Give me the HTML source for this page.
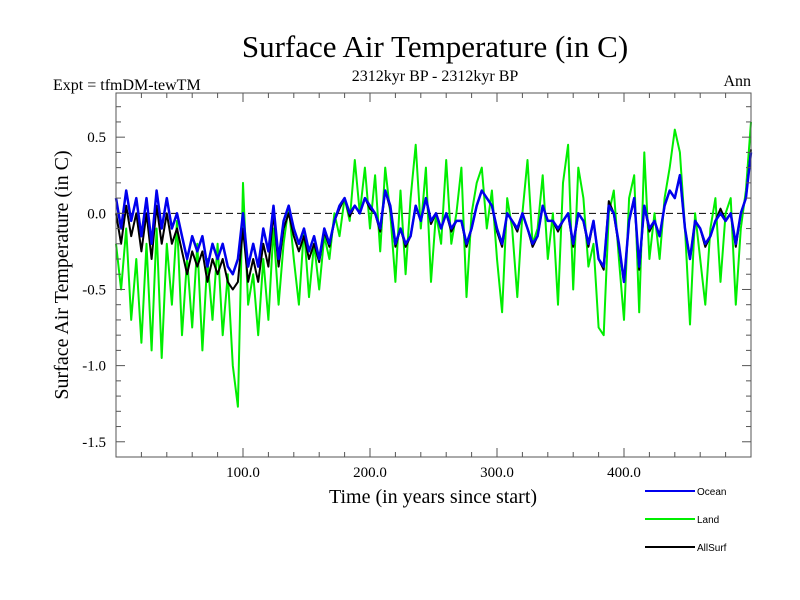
<!DOCTYPE html>
<html><head><meta charset="utf-8"><style>
html,body{margin:0;padding:0;background:#fff;}
svg{display:block;font-family:"Liberation Serif",serif;}
</style></head><body>
<svg id="chart" width="800" height="600" viewBox="0 0 800 600" xmlns="http://www.w3.org/2000/svg">
<text x="435" y="57" font-size="31" text-anchor="middle">Surface Air Temperature (in C)</text>
<text x="53" y="90" font-size="16">Expt = tfmDM-tewTM</text>
<text x="435" y="81" font-size="16" text-anchor="middle">2312kyr BP - 2312kyr BP</text>
<text x="751" y="86" font-size="16" text-anchor="end">Ann</text>
<text transform="translate(68,275) rotate(-90)" font-size="20" text-anchor="middle">Surface Air Temperature (in C)</text>
<text x="433" y="503" font-size="20" text-anchor="middle">Time (in years since start)</text>
<g id="plot"></g>
<g id="axes"></g>
<g id="legend" font-family="Liberation Sans, sans-serif" font-size="10"></g>
</svg>
<script>
const years = [];
for (let i = 0; i <= 125; i++) years.push(i * 4);
const land = [-0.2,-0.5,-0.1,-0.7,-0.3,-0.85,-0.2,-0.9,-0.1,-0.95,-0.2,-0.6,-0.05,-0.8,-0.3,-0.75,-0.2,-0.9,-0.3,-0.7,-0.2,-0.8,-0.4,-1.0,-1.27,0.2,-0.6,-0.4,-0.8,-0.3,-0.7,-0.1,-0.6,
-0.2,0.05,-0.3,-0.6,-0.1,-0.55,-0.2,-0.5,-0.15,-0.3,0.0,-0.15,0.1,-0.05,0.35,0.0,0.3,-0.1,0.25,-0.25,0.3,0.0,-0.45,0.15,-0.4,0.1,0.45,-0.1,0.3,-0.45,0.0,-0.2,
0.35,-0.2,0.0,0.3,-0.55,0.0,0.2,0.3,-0.1,0.15,-0.3,-0.65,0.1,-0.1,-0.55,0.0,0.35,-0.2,-0.1,0.25,-0.3,0.0,-0.6,0.2,0.45,-0.5,0.3,0.1,-0.35,-0.2,-0.75,
-0.8,0.0,0.15,-0.3,-0.7,0.1,0.25,-0.65,0.4,-0.3,0.0,-0.3,0.1,0.3,0.55,0.4,-0.1,-0.73,0.0,-0.3,-0.6,-0.1,0.1,-0.45,0.0,0.1,-0.6,-0.1,0.15,0.6];
const ocean = [0.1,-0.1,0.15,-0.05,0.1,-0.15,0.1,-0.2,0.15,-0.1,0.1,-0.1,0.0,-0.15,-0.3,-0.15,-0.25,-0.15,-0.35,-0.2,-0.3,-0.2,-0.35,-0.4,-0.3,0.0,-0.35,-0.2,-0.35,-0.1,-0.25,0.05,-0.3,
-0.05,0.05,-0.1,-0.2,-0.1,-0.25,-0.15,-0.3,-0.1,-0.2,-0.05,0.05,0.1,0.0,0.05,0.0,0.1,0.05,0.0,-0.1,0.15,0.05,-0.2,-0.1,-0.2,-0.15,0.05,-0.05,0.1,-0.05,0.0,-0.1,
0.0,-0.1,-0.05,-0.05,-0.2,-0.1,0.05,0.15,0.1,0.05,-0.1,-0.2,0.0,-0.05,-0.1,0.0,-0.1,-0.2,-0.15,0.05,-0.05,-0.05,-0.1,-0.05,0.0,-0.2,0.0,-0.05,-0.2,-0.05,-0.3,
-0.35,0.05,0.0,-0.2,-0.45,-0.05,0.1,-0.35,0.05,-0.1,-0.05,-0.15,0.05,0.15,0.1,0.25,-0.1,-0.3,-0.05,-0.1,-0.2,-0.15,-0.05,0.0,-0.05,0.0,-0.2,0.0,0.1,0.4];
const allSurf = [0.0,-0.2,0.05,-0.15,0.0,-0.25,0.0,-0.3,0.05,-0.2,0.0,-0.2,-0.1,-0.25,-0.4,-0.25,-0.35,-0.25,-0.45,-0.3,-0.4,-0.3,-0.45,-0.5,-0.45,-0.1,-0.45,-0.3,-0.45,-0.2,-0.35,0.0,-0.35,
-0.1,0.0,-0.15,-0.25,-0.15,-0.3,-0.2,-0.32,-0.12,-0.22,-0.05,0.03,0.1,-0.02,0.05,0.0,0.1,0.03,0.0,-0.12,0.15,0.03,-0.22,-0.1,-0.22,-0.15,0.05,-0.05,0.1,-0.07,0.0,-0.1,
0.0,-0.12,-0.05,-0.05,-0.22,-0.1,0.05,0.15,0.1,0.05,-0.12,-0.22,0.0,-0.05,-0.12,0.0,-0.1,-0.22,-0.15,0.05,-0.05,-0.05,-0.12,-0.05,0.0,-0.22,0.0,-0.05,-0.22,-0.05,-0.3,
-0.37,0.08,0.0,-0.22,-0.45,-0.05,0.1,-0.37,0.05,-0.12,-0.05,-0.15,0.05,0.15,0.1,0.25,-0.1,-0.3,-0.05,-0.1,-0.22,-0.15,-0.05,0.03,-0.05,0.0,-0.22,0.0,0.1,0.42];
const yTicks = [0.5,0.0,-0.5,-1.0,-1.5];
const yTickLabels = ["0.5","0.0","-0.5","-1.0","-1.5"];
const xTicks = [100,200,300,400];
const xTickLabels = ["100.0","200.0","300.0","400.0"];
const seriesNames = ["Ocean","Land","AllSurf"];

const X0=116,X1=751,Y0=93,Y1=457, XMIN=0,XMAX=500, YMIN=-1.6,YMAX=0.79;
const xs = v => X0 + (v-XMIN)/(XMAX-XMIN)*(X1-X0);
const ys = v => Y1 - (v-YMIN)/(YMAX-YMIN)*(Y1-Y0);
const NS="http://www.w3.org/2000/svg";
function mk(tag, attrs, parent){const e=document.createElementNS(NS,tag);for(const k in attrs)e.setAttribute(k,attrs[k]);parent.appendChild(e);return e;}
const plot=document.getElementById('plot'), axes=document.getElementById('axes'), legend=document.getElementById('legend');

const zl = mk('line',{x1:X0,x2:X1,y1:ys(0),y2:ys(0),stroke:'#000','stroke-width':1,'stroke-dasharray':'7,4'},plot);



function path(vals){return vals.map((v,i)=>(i?'L':'M')+xs(years[i]).toFixed(1)+','+ys(v).toFixed(1)).join('');}
const pl = mk('path',{d:path(land),fill:'none',stroke:'#00ee00','stroke-width':2,'stroke-linejoin':'round'},plot);


const pa = mk('path',{d:path(allSurf),fill:'none',stroke:'#000','stroke-width':2,'stroke-linejoin':'round'},plot);


const po = mk('path',{d:path(ocean),fill:'none',stroke:'#0000ee','stroke-width':2.5,'stroke-linejoin':'round'},plot);



const frame = mk('rect',{x:X0,y:Y0,width:X1-X0,height:Y1-Y0,fill:'none',stroke:'#555','stroke-width':1},axes);


for(let t=20;t<500;t+=20){
  const L = (t%100===0)?9:5;
  mk('line',{x1:xs(t),x2:xs(t),y1:Y1,y2:Y1-L,stroke:'#555'},axes);
  mk('line',{x1:xs(t),x2:xs(t),y1:Y0,y2:Y0+L,stroke:'#555'},axes);
}
for(let k=-15;k<=7;k++){
  const v=k/10, L=(k%5===0)?9:5;
  mk('line',{x1:X0,x2:X0+L,y1:ys(v),y2:ys(v),stroke:'#555'},axes);
  mk('line',{x1:X1,x2:X1-L,y1:ys(v),y2:ys(v),stroke:'#555'},axes);
}
yTicks.forEach((v,i)=>{
  const t=mk('text',{x:X0-10,y:ys(v)+5,'font-size':15,'text-anchor':'end'},axes);
  t.textContent=yTickLabels[i];
  
  
});
xTicks.forEach((v,i)=>{
  const t=mk('text',{x:xs(v),y:Y1+20,'font-size':15,'text-anchor':'middle'},axes);
  t.textContent=xTickLabels[i];
  
  
});
const legColors=['#0000ee','#00ee00','#000'];
seriesNames.forEach((n,i)=>{
  const y=491+i*28;
  const g=mk('g',{},legend);
  
  
  mk('line',{x1:645,x2:695,y1:y,y2:y,stroke:legColors[i],'stroke-width':2},g);
  const t=mk('text',{x:697,y:y+4},g);
  t.textContent=n;
});
</script>
</body></html>
